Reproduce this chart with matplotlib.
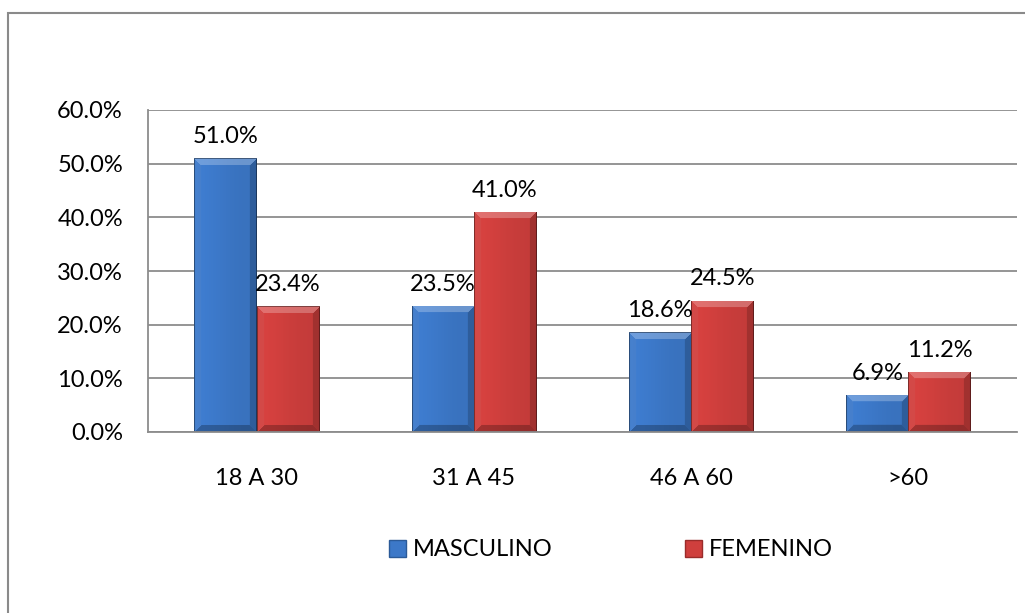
import numpy as np
import matplotlib.pyplot as plt
from matplotlib.patches import Rectangle, Patch
from matplotlib.colors import to_rgb

# datos
categorias = ["18 A 30", "31 A 45", "46 A 60", ">60"]
masculino = [51.0, 23.5, 18.6, 6.9]
femenino = [23.4, 41.0, 24.5, 11.2]
ticks_y = [0, 10, 20, 30, 40, 50, 60]

azul = "#3c78c8"
rojo = "#cf3f3d"
plt.rcParams['font.family'] = ['Lato', 'DejaVu Sans']
fs = 17

fig = plt.figure(figsize=(10.25, 6.13), dpi=100)
ax = fig.add_axes([148/1025, 1-432/613, (1017-148)/1025, (432-110)/613])

x = np.arange(len(categorias))
w = 0.286
b1 = ax.bar(x - w/2, masculino, w, color=azul, zorder=3)
b2 = ax.bar(x + w/2, femenino, w, color=rojo, zorder=3)

ax.set_xlim(-0.5, len(categorias) - 0.5)
ax.set_ylim(0, 60)
ax.set_yticks(ticks_y)
ax.set_yticklabels([f"{v:.1f}%" for v in ticks_y], fontsize=fs)
ax.set_xticks(x)
ax.set_xticklabels(categorias, fontsize=fs)
ax.tick_params(axis='y', length=0, pad=18)
ax.tick_params(axis='x', length=0, pad=26)
ax.grid(axis='y', color='#8c8c8c', lw=1.3, zorder=0)
for s in ['top', 'right']:
    ax.spines[s].set_visible(False)
for s in ['left', 'bottom']:
    ax.spines[s].set_color('#8c8c8c')
    ax.spines[s].set_linewidth(1.3)
ax.spines['bottom'].set_zorder(4)


def bisel(color, hp, wp, b=7):
    # imagen con efecto de bisel tipo Excel
    c = np.array(to_rgb(color))
    yy, xx = np.mgrid[0:hp, 0:wp]
    img = np.ones((hp, wp, 3)) * c
    # gradiente horizontal suave
    g = 1.0 + 0.05 * np.cos((xx / max(wp - 1, 1)) * np.pi + 0.3)
    img = img * g[..., None]
    top = yy
    bot = hp - 1 - yy
    left = xx
    right = wp - 1 - xx
    d = np.minimum(np.minimum(top, bot), np.minimum(left, right))
    m = d < b
    claro = m & (top == d)
    izq = m & (left == d) & ~claro
    der = m & (right == d) & ~claro
    abajo = m & (bot == d) & ~claro & ~izq & ~der
    img[claro] = img[claro] * 0.75 + 0.25
    img[izq] = img[izq] * 0.92 + 0.05
    img[der] = img[der] * 0.82
    img[abajo] = img[abajo] * 0.75
    # borde fino oscuro
    borde = d < 1
    img[borde] = img[borde] * 0.6
    return np.clip(img, 0, 1)


fig.canvas.draw()
for barras, col in [(b1, azul), (b2, rojo)]:
    for p in barras:
        bx, by = p.get_x(), p.get_y()
        bw, bh = p.get_width(), p.get_height()
        (px0, py0), (px1, py1) = ax.transData.transform([(bx, by), (bx + bw, by + bh)])
        hp = max(int(round(py1 - py0)), 2)
        wp = max(int(round(px1 - px0)), 2)
        im = ax.imshow(bisel(col, hp, wp), extent=(bx, bx + bw, by, by + bh),
                       aspect='auto', zorder=3.5, interpolation='bilinear')
        im.set_clip_path(p)

for barras, vals in [(b1, masculino), (b2, femenino)]:
    for p, v in zip(barras, vals):
        ax.annotate(f"{v:.1f}%", (p.get_x() + p.get_width()/2, v),
                    xytext=(0, 8), textcoords='offset points',
                    ha='center', va='bottom', fontsize=fs, zorder=5)

ax.set_xlim(-0.5, len(categorias) - 0.5)
ax.set_ylim(0, 60)

# marco exterior del grafico
fig.patches.append(Rectangle((8/1025, -0.2), 1.2, 1 - 13/613 + 0.2,
                             transform=fig.transFigure, fill=False,
                             edgecolor='#8a8a8a', lw=1.5))

handles = [Patch(facecolor=azul, edgecolor='#2b5a98'),
           Patch(facecolor=rojo, edgecolor='#9a2c2a')]
fig.legend(handles, ["MASCULINO", "FEMENINO"], loc='center',
           bbox_to_anchor=(611/1025, 1 - 550/613), ncol=2, frameon=False,
           fontsize=fs, handlelength=0.7, handleheight=0.7,
           handletextpad=0.3, columnspacing=5.6)

fig.savefig("out.png", dpi=100)
